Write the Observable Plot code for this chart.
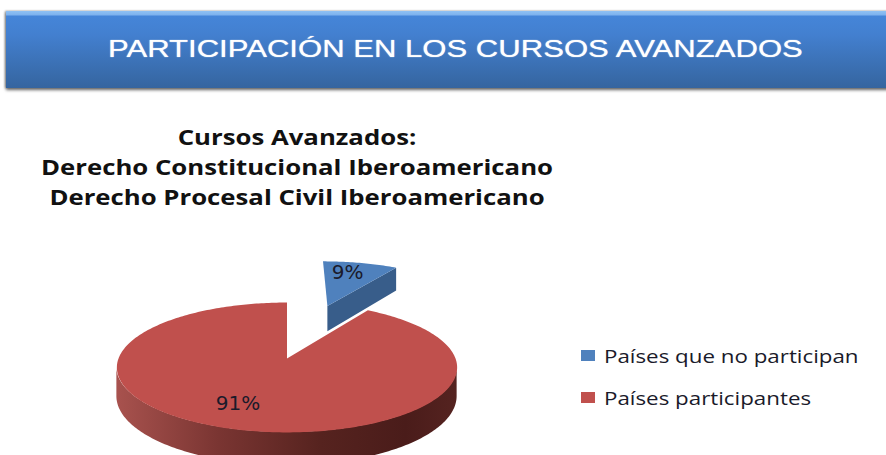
<!DOCTYPE html>
<html lang="es">
<head>
<meta charset="utf-8">
<script src="https://cdn.jsdelivr.net/npm/d3@7"></script>
<script src="https://cdn.jsdelivr.net/npm/@observablehq/plot@0.6"></script>
<style>
  html, body { margin: 0; padding: 0; background: #fff; overflow: hidden; }
  #page { position: relative; width: 886px; height: 455px; overflow: hidden; }
  #page svg { position: absolute; left: 0; top: 0; }
  #banner {
    position: absolute; left: 6px; top: 11px; width: 890px; height: 77px; box-sizing: border-box;
    background: linear-gradient(#8fc1f3 0, #7db2ee 4px, #4585d8 5px, #4380d0 30%, #35659f 100%);
    box-shadow: 0 2px 3px #666, -1px 0 2px #999;
  }
  #banner h1 {
    position: absolute; left: 102px; top: 24px; margin: 0; white-space: nowrap;
    font: 400 24px "Liberation Sans", Arial, sans-serif; color: #fff;
    text-shadow: 0 0 1px rgba(255,255,255,.9);
    transform: scaleX(1.295); transform-origin: left center;
  }
  #chartTitle {
    position: absolute; left: 0; top: 121px; width: 594px; text-align: center;
    font: 700 22px/30px "Open Sans", sans-serif; color: #111;
    transform: scaleX(1.17); transform-origin: 297px center;
  }
  #legend {
    position: absolute; left: 581px; top: 335px;
    font: 400 19px/42px "Open Sans", sans-serif; color: #1a1a2a; white-space: nowrap;
  }
  #legend div { position: relative; padding-left: 23px; height: 42px; }
  #legend i { position: absolute; left: 0; top: 15px; width: 14px; height: 11px; }
  #legend span { display: inline-block; transform: scaleX(1.175); transform-origin: left center; }
</style>
</head>
<body>
<div id="page">
  <div id="chart"></div>
  <div id="banner"><h1>PARTICIPACIÓN EN LOS CURSOS AVANZADOS</h1></div>
  <div id="chartTitle"></div>
  <div id="legend"></div>
</div>
<script>
const bannerTitle = "PARTICIPACIÓN EN LOS CURSOS AVANZADOS";
const titleLines = ["Cursos Avanzados:", "Derecho Constitucional Iberoamericano", "Derecho Procesal Civil Iberoamericano"];
const categories = ["Países que no participan", "Países participantes"];
const values = [9, 91];
const labels = ["9%", "91%"];
const topColors = ["#4F81BD", "#C0504D"];
const sideColors = ["#385D8A", "#8C3836"];

// Pie geometry, in units of the pie radius
const perspective = 0.138;
const explode = [0.97, 0];
const depth = 0.447;
const labelRadius = [0.75, 0.7];
const labelTurn = [-3, 6];

const project = (X, Z, drop = 0) => {
  const w = 1 + perspective * Z;
  return {x: X / w, y: (Z - drop) / w};
};

const total = d3.sum(values);
let start = 0;
const slices = values.map((v, i) => {
  const a0 = start, a1 = start + (v / total) * 360;
  start = a1;
  const mid = (a0 + a1) / 2 * Math.PI / 180;
  return {i, a0, a1, ox: explode[i] * Math.sin(mid), oz: explode[i] * Math.cos(mid)};
});

const rimPoint = (s, deg, drop = 0, r = 1) => {
  const t = deg * Math.PI / 180;
  return project(s.ox + r * Math.sin(t), s.oz + r * Math.cos(t), drop);
};
const arcDegrees = (a0, a1) => {
  const n = Math.ceil(Math.abs(a1 - a0));
  return d3.range(n + 1).map(k => a0 + (a1 - a0) * k / n);
};
const facePoints = s => [project(s.ox, s.oz), ...arcDegrees(s.a0, s.a1).map(d => rimPoint(s, d))];

const [blue, red] = slices;

// Outer wall of the large slice: the front part of its rim
const frontLimit = Math.acos(-perspective) * 180 / Math.PI;
const redWall = arcDegrees(frontLimit, 360 - frontLimit).map(d => {
  const a = rimPoint(red, d), b = rimPoint(red, d, depth);
  return {x1: a.x, y1: a.y, x2: b.x, y2: b.y};
});

// Cut face of the exploded slice
const blueCut = [
  project(blue.ox, blue.oz),
  rimPoint(blue, blue.a1),
  rimPoint(blue, blue.a1, depth),
  project(blue.ox, blue.oz, depth)
];

const labelData = slices.map(s => {
  const p = rimPoint(s, (s.a0 + s.a1) / 2 + labelTurn[s.i], 0, labelRadius[s.i]);
  return {...p, label: labels[s.i]};
});

const gradient = () => {
  const defs = d3.create("svg:defs");
  const g = defs.append("linearGradient").attr("id", "redSide");
  [[0, "#A8524E"], [0.3, "#7A3532"], [0.6, "#56231F"], [0.85, "#4A1C1A"], [1, "#552320"]]
    .forEach(([o, c]) => g.append("stop").attr("offset", o).attr("stop-color", c));
  return defs.node();
};

const chart = Plot.plot({
  width: 886,
  height: 455,
  margin: 0,
  style: {background: "transparent"},
  x: {domain: [-1, 1], range: [118, 455], axis: null},
  y: {domain: [-1, 1], range: [421.7, 294.3], axis: null},
  marks: [
    gradient,
    Plot.area(redWall, {x1: "x1", y1: "y1", x2: "x2", y2: "y2", fill: "url(#redSide)"}),
    Plot.line(facePoints(red), {x: "x", y: "y", fill: topColors[1], stroke: "none"}),
    Plot.line(blueCut, {x: "x", y: "y", fill: sideColors[0], stroke: "none"}),
    Plot.line(facePoints(blue), {x: "x", y: "y", fill: topColors[0], stroke: "none"}),
    Plot.text(labelData, {
      x: "x", y: "y", text: "label", fill: "#1a1a2a",
      fontSize: 20, fontFamily: "DejaVu Sans, sans-serif"
    })
  ]
});
document.getElementById("chart").append(chart);

document.querySelector("#banner h1").textContent = bannerTitle;
d3.select("#chartTitle").selectAll("div").data(titleLines).join("div").text(d => d);
const rows = d3.select("#legend").selectAll("div").data(categories).join("div");
rows.append("i").style("background", (d, i) => topColors[i]);
rows.append("span").text(d => d);
</script>
</body>
</html>
